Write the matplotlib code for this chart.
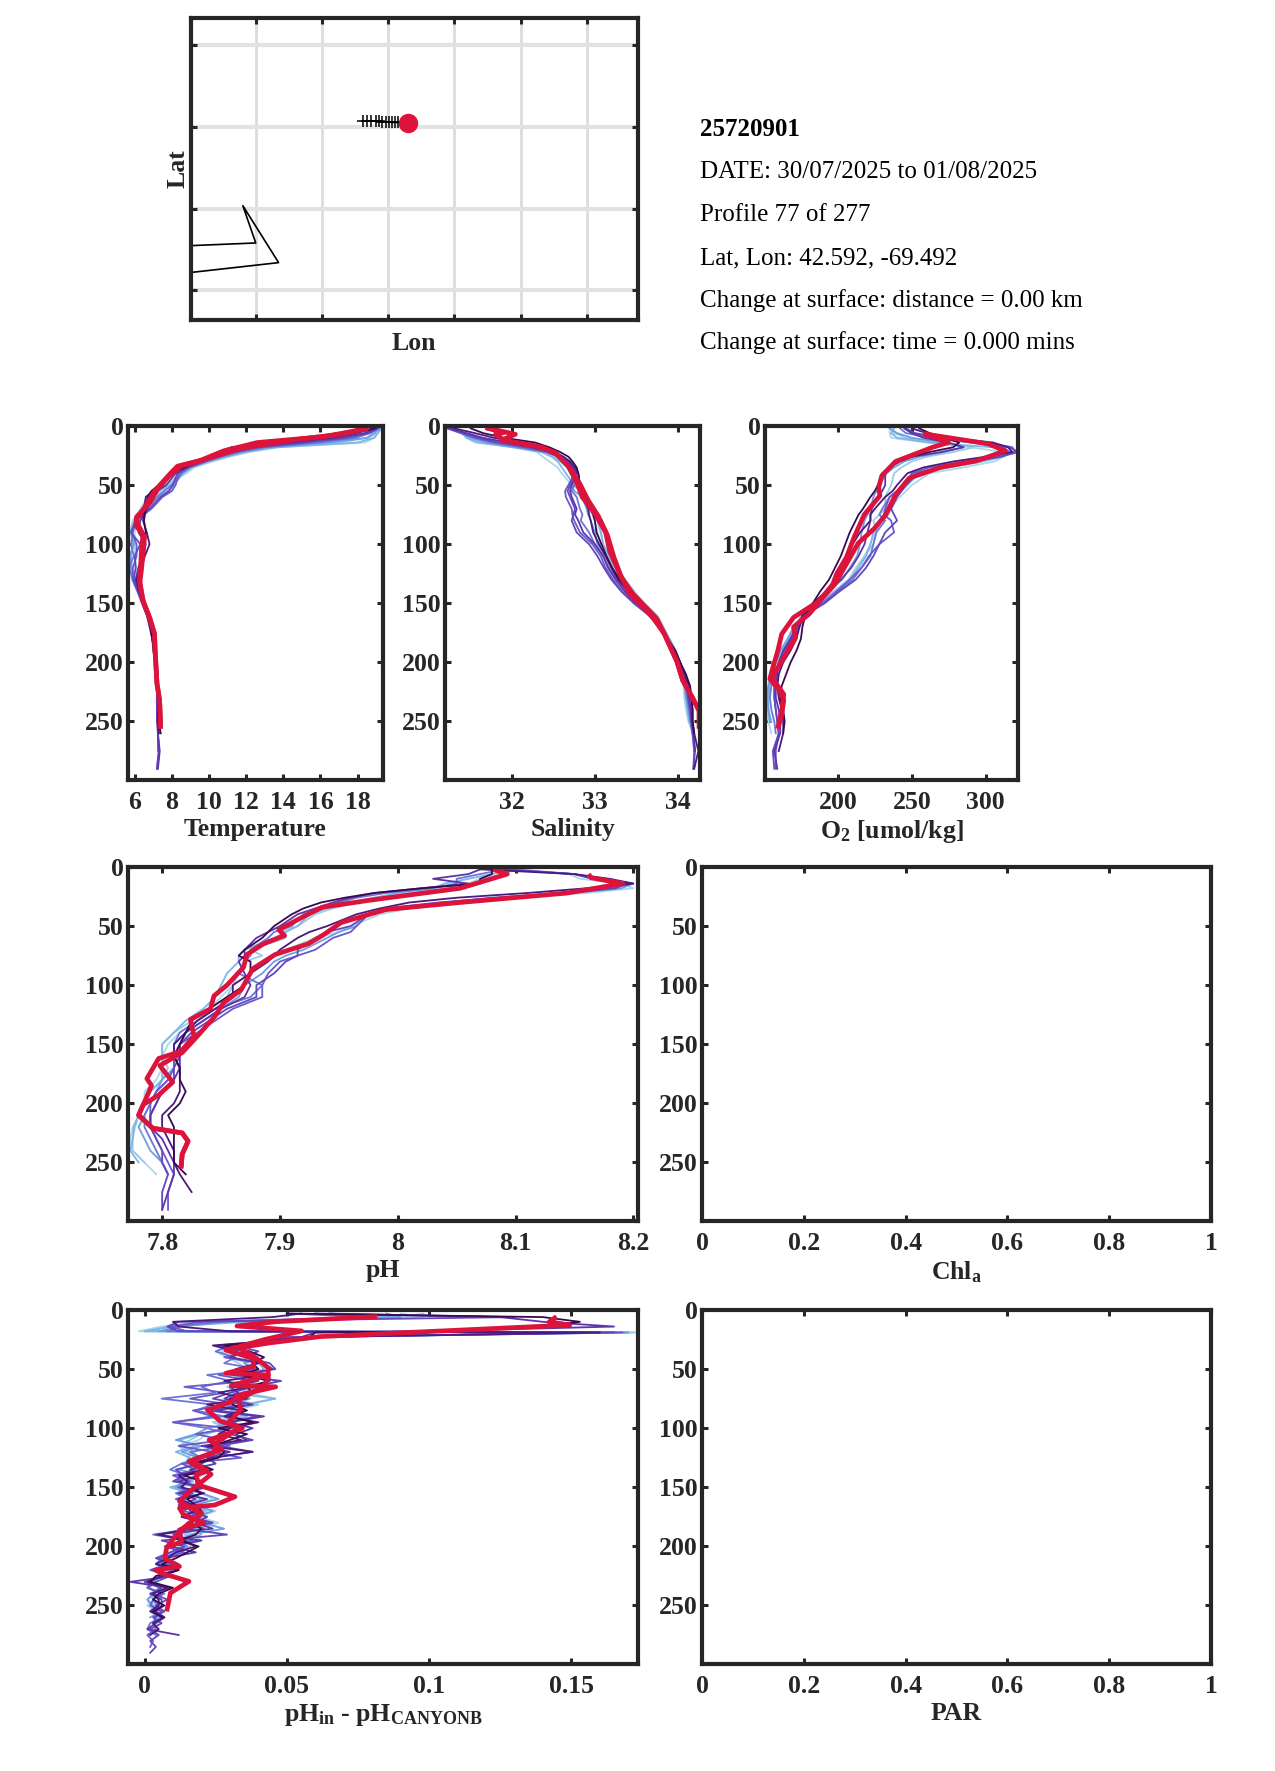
import matplotlib
matplotlib.use("Agg")
import matplotlib.pyplot as plt
from matplotlib.ticker import FormatStrFormatter

plt.rcParams['font.family'] = ['Liberation Serif', 'DejaVu Serif']
plt.rcParams['mathtext.fontset'] = 'custom'
plt.rcParams['mathtext.rm'] = 'Liberation Serif:bold'
plt.rcParams['mathtext.it'] = 'Liberation Serif:bold'
plt.rcParams['mathtext.bf'] = 'Liberation Serif:bold'
plt.rcParams['mathtext.default'] = 'rm'

W, H = 1275, 1771
DARK = '#262626'
RED = '#DC143C'
FS = 18.5

# colours of the older profiles, oldest first
prof_colors = ['#ADD8E6', '#9CCDE8', '#7FB6E6', '#6E9FE0', '#6C77D6', '#6A5ACD', '#6247BE', '#5E35A8', '#4B1A7E', '#3A0A50']

# depth levels shared by the older profiles, each stops at its own length
depth = [2,6,10,14,18,22,26,30,35,40,50,55,60,70,75,80,90,100,110,120,130,140,150,160,170,180,190,200,210,220,230,240,250,260,275,290]

temp_1 = [19.2,19.0,18.9,18.4,13.8,12.2,11.1,10.2,9.2,8.8,7.6,7.1,6.7,6.3,6.2,6.1,6.0,6.0,6.0,6.1,6.2,6.4,6.6,6.8,6.95,7.05,7.1,7.2,7.2,7.25,7.3,7.3,7.3]
temp_2 = [19.3,19.1,18.9,18.0,13.6,11.9,10.9,10.0,9.1,8.6,7.9,7.3,6.9,6.5,6.2,6.0,5.85,5.9,5.8,5.85,6.0,6.2,6.45,6.7,6.9,7.0,7.1,7.2,7.2,7.25,7.3,7.3,7.3,7.3]
temp_3 = [19.2,18.9,18.5,16.5,13.2,11.8,10.8,9.9,9.0,8.6,8.1,7.8,7.3,6.6,6.3,6.0,5.8,5.95,5.75,5.8,5.95,6.2,6.45,6.7,6.9,7.0,7.1,7.15,7.2,7.2,7.25,7.25,7.25,7.25]
temp_4 = [19.1,18.6,17.6,15.4,12.8,11.4,10.5,9.8,8.9,8.4,8.2,8.0,7.5,6.9,6.5,6.1,5.85,6.1,6.1,5.9,5.9,6.15,6.4,6.65,6.85,6.95,7.1,7.15,7.2,7.2,7.2,7.2,7.25,7.25,7.3,7.2]
temp_5 = [19.0,18.4,16.9,14.6,12.4,11.2,10.3,9.6,8.8,8.2,7.7,7.2,6.9,6.7,6.5,6.3,6.2,6.6,6.4,6.2,6.05,6.2,6.4,6.65,6.8,6.95,7.05,7.1,7.2,7.2,7.2,7.2,7.2,7.25,7.35,7.25]
temp_6 = [19.0,17.9,16.4,14.0,11.8,10.8,10.0,9.5,8.7,8.0,7.5,7.0,6.6,6.5,6.5,6.45,6.65,6.8,6.55,6.35,6.1,6.25,6.45,6.7,6.85,6.95,7.0,7.1,7.2,7.25,7.25,7.25,7.25,7.3]
temp_7 = [18.9,17.5,15.9,13.5,11.2,10.5,9.9,9.4,8.7,7.9,7.3,6.9,6.7,6.6,6.55,6.5,6.6,6.55,6.5,6.4,6.2,6.3,6.5,6.7,6.85,6.95,7.05,7.1,7.2,7.2,7.25,7.25,7.3,7.4]
temp_8 = [19.25,19.0,18.6,17.0,13.5,12.0,10.9,10.0,9.0,8.4,7.8,7.5,7.0,6.4,6.1,5.9,5.75,6.0,5.7,5.75,5.85,6.15,6.4,6.65,6.9,7.0,7.1,7.2,7.2,7.25,7.3,7.3,7.3]
temp_9 = [19.1,18.5,17.2,15.0,12.5,11.3,10.4,9.7,8.8,8.3,8.05,7.85,7.4,6.8,6.4,6.05,5.8,6.3,6.0,6.05,5.95,6.2,6.45,6.7,6.85,6.95,7.05,7.15,7.2,7.2,7.2,7.25,7.25,7.25,7.3,7.2]
temp_10 = [19.15,18.7,17.9,15.9,13.0,11.6,10.6,9.85,8.95,8.5,8.0,7.6,7.2,6.7,6.35,6.05,5.9,5.8,5.95,5.7,5.9,6.2,6.45,6.7,6.85,7.0,7.1,7.15,7.2,7.2,7.25,7.25,7.25,7.25,7.25]

sal_1 = [31.3,31.4,31.45,31.55,32.05,32.3,32.37,32.45,32.55,32.6,32.72,32.85,32.9,33.0,33.02,33.05,33.08,33.1,33.2,33.27,33.37,33.48,33.6,33.75,33.83,33.9,33.98,34.03,34.05,34.07,34.08,34.1,34.13,34.18]
sal_2 = [31.25,31.4,31.45,31.6,32.0,32.35,32.48,32.55,32.6,32.65,32.75,32.82,32.9,32.97,33.0,33.03,33.07,33.1,33.17,33.25,33.33,33.45,33.57,33.72,33.82,33.9,33.97,34.02,34.06,34.08,34.1,34.12,34.14]
sal_3 = [31.22,31.38,31.5,31.7,32.05,32.4,32.55,32.62,32.7,32.75,32.72,32.75,32.85,32.9,32.92,32.95,33.0,33.03,33.13,33.2,33.3,33.42,33.55,33.7,33.8,33.88,33.96,34.02,34.06,34.09,34.1,34.13,34.15,34.18]
sal_4 = [31.22,31.38,31.55,31.8,32.15,32.42,32.58,32.66,32.72,32.76,32.68,32.64,32.65,32.72,32.73,32.75,32.82,32.97,33.07,33.13,33.22,33.33,33.48,33.66,33.78,33.87,33.96,34.02,34.07,34.1,34.12,34.15,34.16,34.18,34.2,34.19]
sal_5 = [31.23,31.45,31.65,31.95,32.25,32.48,32.6,32.68,32.74,32.78,32.72,32.7,32.72,32.78,32.76,32.8,32.86,33.0,33.1,33.16,33.25,33.36,33.5,33.68,33.79,33.88,33.97,34.03,34.08,34.12,34.14,34.16,34.17,34.19,34.21]
sal_6 = [31.3,31.55,31.78,32.1,32.35,32.52,32.62,32.7,32.76,32.8,32.82,32.82,32.85,32.92,32.93,32.95,32.98,33.05,33.13,33.2,33.28,33.4,33.52,33.66,33.78,33.87,33.96,34.03,34.09,34.14,34.16,34.18,34.18,34.2,34.25,34.2]
sal_7 = [31.5,31.65,31.9,32.28,32.45,32.58,32.68,32.73,32.78,32.8,32.82,32.84,32.9,32.95,32.98,33.0,33.02,33.08,33.14,33.21,33.3,33.42,33.55,33.68,33.8,33.88,33.97,34.03,34.1,34.15,34.17,34.18,34.18,34.2]
sal_8 = [31.28,31.42,31.5,31.65,32.1,32.38,32.5,32.58,32.66,32.7,32.78,32.8,32.82,32.92,32.97,33.0,33.03,33.07,33.15,33.23,33.33,33.45,33.58,33.73,33.82,33.9,33.98,34.03,34.06,34.08,34.1,34.12,34.15]
sal_9 = [31.25,31.42,31.6,31.85,32.2,32.45,32.6,32.66,32.72,32.75,32.7,32.67,32.7,32.76,32.74,32.72,32.78,32.93,33.03,33.11,33.2,33.32,33.47,33.65,33.77,33.87,33.96,34.02,34.07,34.11,34.13,34.15,34.17,34.19,34.21,34.19]
sal_10 = [31.24,31.4,31.55,31.75,32.12,32.42,32.56,32.64,32.72,32.78,32.75,32.72,32.78,32.82,32.85,32.83,32.93,33.0,33.1,33.17,33.27,33.38,33.52,33.68,33.79,33.88,33.97,34.03,34.07,34.1,34.12,34.14,34.16,34.18,34.2]

oxy_1 = [235,235,236,260,290,312,312,306,285,262,250,246,242,235,232,230,225,222,218,212,207,197,187,177,171,167,162,157,155,153,152,152,153,155]
oxy_2 = [238,236,240,262,305,318,312,298,275,255,247,243,240,236,234,230,224,222,219,214,208,198,188,177,171,167,163,158,156,154,153,153,155]
oxy_3 = [235,240,250,272,285,272,255,245,238,233,228,226,224,222,220,218,216,215,213,208,203,193,184,176,170,166,161,157,155,153,152,153,154]
oxy_4 = [245,250,268,300,318,320,305,285,262,250,245,240,235,232,231,236,238,228,221,216,208,199,190,178,174,170,164,160,158,157,157,158,159,160,158,158]
oxy_5 = [245,250,258,275,285,270,250,240,235,232,232,230,227,223,222,222,220,218,214,209,202,194,184,177,172,168,163,160,159,158,158,160,161,161,157,159]
oxy_6 = [250,260,275,305,315,318,300,278,258,247,240,237,232,225,222,222,215,210,207,203,198,192,183,176,174,172,168,163,160,159,160,162,163,163,160]
oxy_7 = [255,262,272,282,278,262,250,242,235,230,227,225,222,217,214,212,208,205,202,198,194,188,183,178,176,175,172,168,165,162,161,163,164,163]
oxy_8 = [236,238,246,268,292,278,260,250,243,238,236,234,232,232,228,224,226,224,218,213,208,198,187,177,171,167,162,158,155,153,152,153,155]
oxy_9 = [246,252,270,298,316,322,310,292,268,254,246,243,240,236,238,240,232,228,224,219,212,201,191,178,173,169,165,161,158,157,157,158,159,160,156,157]
oxy_10 = [242,246,262,290,312,316,306,290,270,252,244,240,235,230,228,232,226,224,222,216,210,200,189,178,172,168,164,160,157,155,154,155,157,158]

ph_1 = [8.10,8.145,8.155,8.19,8.2,8.16,8.10,8.06,8.01,7.985,7.96,7.95,7.93,7.905,7.895,7.885,7.875,7.86,7.85,7.84,7.83,7.815,7.805,7.80,7.80,7.795,7.785,7.785,7.78,7.775,7.773,7.775,7.785,7.795]
ph_2 = [8.10,8.08,8.06,8.04,8.03,8.0,7.98,7.96,7.94,7.925,7.915,7.905,7.895,7.87,7.865,7.865,7.855,7.85,7.845,7.835,7.82,7.81,7.80,7.80,7.80,7.80,7.79,7.785,7.78,7.776,7.775,7.773,7.78]
ph_3 = [8.10,8.15,8.17,8.2,8.19,8.15,8.09,8.05,8.0,7.975,7.965,7.95,7.94,7.92,7.905,7.895,7.885,7.87,7.865,7.85,7.835,7.82,7.81,7.81,7.81,7.80,7.795,7.79,7.785,7.78,7.785,7.79,7.80,7.805]
ph_4 = [8.09,8.15,8.17,8.2,8.18,8.14,8.08,8.04,7.995,7.975,7.965,7.96,7.945,7.93,7.915,7.90,7.89,7.885,7.885,7.86,7.845,7.83,7.815,7.81,7.81,7.805,7.795,7.79,7.79,7.79,7.795,7.80,7.805,7.81,7.805,7.805]
ph_5 = [8.07,8.06,8.03,8.06,8.02,7.98,7.96,7.945,7.93,7.915,7.90,7.89,7.88,7.87,7.87,7.865,7.87,7.875,7.87,7.85,7.835,7.82,7.815,7.815,7.815,7.81,7.80,7.795,7.79,7.79,7.80,7.805,7.81,7.81,7.805,7.80]
ph_6 = [8.07,8.15,8.18,8.20,8.16,8.11,8.05,8.01,7.985,7.965,7.94,7.925,7.915,7.90,7.895,7.89,7.875,7.86,7.86,7.845,7.83,7.82,7.81,7.81,7.815,7.815,7.815,7.81,7.80,7.80,7.805,7.81,7.81,7.815,7.825]
ph_7 = [8.08,8.08,8.07,8.07,8.02,7.98,7.955,7.935,7.92,7.91,7.895,7.89,7.885,7.87,7.865,7.875,7.875,7.87,7.855,7.84,7.825,7.82,7.815,7.81,7.815,7.815,7.82,7.815,7.805,7.81,7.81,7.81,7.81,7.82]
ph_8 = [8.10,8.09,8.07,8.06,8.04,8.01,7.98,7.965,7.945,7.93,7.915,7.90,7.905,7.875,7.885,7.87,7.865,7.86,7.855,7.84,7.825,7.81,7.80,7.80,7.805,7.80,7.79,7.785,7.78,7.777,7.775,7.775,7.785]
ph_9 = [8.09,8.15,8.165,8.195,8.185,8.145,8.085,8.035,7.99,7.975,7.96,7.94,7.93,7.915,7.915,7.905,7.895,7.88,7.88,7.855,7.84,7.825,7.815,7.815,7.81,7.81,7.80,7.795,7.79,7.79,7.795,7.80,7.80,7.805,7.80,7.80]
ph_10 = [8.09,8.07,8.05,8.05,8.03,7.99,7.965,7.95,7.935,7.92,7.91,7.895,7.89,7.875,7.875,7.87,7.865,7.885,7.875,7.845,7.83,7.815,7.81,7.81,7.81,7.805,7.795,7.79,7.785,7.785,7.79,7.795,7.80,7.805]

# pH difference is noisy so it has its own finer levels
diff_depth = [3,6,10,14,18,19,23,27] + list(range(30, 295, 5))
diff_1 = [.09,.098,.02,.006,-.002,.173,.05,.043,
          .035,.027,.03,.036,.038,.035,.04,.033,.036,.046,.034,.028,.03,.025,.028,.022,
          .019,.013,.018,.015,.02,.024,.017,.021,.012,.02,.024,.018,.025,.019,.026,.02,
          .017,.02,.014,.01,.007,.01,.006,.009,.004,.007,.002,.005,.001,.004]
diff_2 = [.065,.09,.035,.01,.0,.17,.055,.045,
          .04,.03,.036,.04,.042,.036,.047,.04,.03,.046,.036,.03,.036,.026,.03,.02,
          .012,.018,.011,.016,.014,.02,.012,.017,.009,.016,.02,.014,.021,.016,.024,.018,
          .02,.013,.012,.011,.008,.005,.009,.005,.003,.006,.002,.003,.004,.002,.005]
diff_3 = [.06,.08,.025,.012,.008,.162,.05,.04,
          .03,.025,.032,.028,.04,.022,.03,.02,.025,.006,.024,.018,.028,.01,.022,.03,
          .024,.03,.016,.02,.013,.009,.015,.011,.018,.011,.015,.012,.019,.013,.022,.017,
          .003,.015,.009,.012,.006,.004,.01,.006,.002,.001,.007,.003,.005,.003,.006,.002,.001,.004]
diff_4 = [.06,.13,.012,.008,.012,.165,.05,.042,
          .032,.04,.035,.044,.046,.031,.048,.038,.03,.024,.035,.022,.04,.028,.034,.03,
          .038,.026,.038,.024,.02,.011,.014,.01,.022,.013,.018,.012,.02,.016,.024,.014,
          .029,.006,.014,.009,.004,.01,.003,.008,.0,.006,.003,.008,.004,.007,.003,.006,.002,.005,.002,.004,.002]
diff_5 = [.065,.125,.14,.165,.1,.06,.055,.04,
          .026,.035,.03,.042,.045,.036,.04,.03,.033,.028,.038,.025,.042,.03,.038,.032,
          .036,.02,.03,.022,.025,.016,.019,.012,.02,.012,.022,.015,.016,.022,.018,.024,
          .004,.02,.009,.018,.007,.012,.003,.01,-.005,.009,.002,.006,.006,.004,.007,.004,.001,.012]
diff_6 = [.05,.14,.153,.14,.1,.06,.058,.042,
          .028,.037,.042,.038,.04,.034,.044,.036,.038,.03,.031,.036,.03,.038,.026,.036,
          .03,.024,.028,.026,.018,.024,.014,.02,.017,.02,.015,.018,.02,.018,.016,.02,
          .018,.012,.019,.015,.011,.006,.012,.004,.002,.01,.005,.003,.007,.003,.006]
diff_7 = [.098,.09,.03,.008,.0,.172,.052,.044,
          .031,.025,.029,.033,.036,.031,.037,.029,.033,.03,.04,.031,.034,.024,.03,.02,
          .016,.012,.015,.02,.016,.018,.011,.017,.01,.016,.021,.016,.022,.017,.022,.019,
          .014,.018,.016,.012,.009,.007,.008,.005,.003,.002,.004,.001,.002,.005]
diff_8 = [.085,.09,.03,.012,.005,.17,.054,.046,
          .036,.03,.04,.035,.038,.042,.034,.043,.034,.037,.03,.035,.028,.032,.022,.018,
          .011,.02,.013,.019,.018,.012,.02,.014,.011,.02,.026,.017,.024,.018,.02,.028,
          .016,.012,.015,.01,.006,.009,.004,.007,.002,.005,.003,.001,.003,.006,.002]
diff_9 = [.05,.08,.02,.009,.015,.168,.055,.044,
          .03,.036,.028,.04,.034,.026,.038,.014,.028,.016,.03,.017,.024,.01,.03,.018,
          .028,.012,.024,.034,.013,.018,.01,.016,.012,.017,.011,.016,.014,.02,.015,.021,
          .01,.017,.007,.014,.005,.008,.002,.009,.004,.001,.006,.003,.002,.006,.004,.003,.004,.001,.003,.002]
diff_10 = [.055,.045,.01,.012,.03,.16,.058,.04,
           .024,.032,.038,.04,.032,.042,.028,.037,.026,.036,.022,.034,.028,.04,.03,.026,
           .034,.022,.038,.024,.016,.021,.012,.015,.013,.021,.012,.017,.018,.013,.021,.016,
           .005,.014,.018,.011,.008,.004,.012,.006,.001,.008,.003,.005,.005,.002,.007,.003,.005,.002]

# the two highlighted profiles in red, each panel with its own depths
temp_red_a = [18.57,17.05,14.4,11.7,10.46,9.4,8.5,7.87,7.25,6.8,6.1,6.1,6.45,6.36,6.32,6.27,6.45,6.8,7.07,7.1,7.2,7.34,7.4]
temp_red_a_z = [2,7,12,19,25,30,34,42,53,65,77,85,92,106,120,131,148,162,176,190,218,232,256]
temp_red_b = [18.57,16.2,12.6,10.8,9.56,8.3,7.87,7.07,6.53,6.1,6.2,6.53,6.45,6.36,6.27,6.45,6.8,7.07,7.1,7.2,7.34,7.4]
temp_red_b_z = [2,9,14,21,29,34,41,55,69,79,84,94,108,122,133,148,162,176,190,218,232,256]

sal_red_a = [31.68,31.9,31.8,31.9,32.37,32.54,32.68,32.77,32.85,33.01,33.13,33.18,33.3,33.42,33.7,33.84,33.99,34.06,34.18,34.26,34.26]
sal_red_a_z = [1.4,5.6,7,12,18,24,34,46,60,75,90,106,125,142,162,176,199,215,230,241,256]
sal_red_b = [31.68,32.04,31.87,32.28,32.51,32.68,32.82,32.92,33.04,33.15,33.23,33.32,33.46,33.75,33.84,33.99,34.06,34.18,34.26,34.26]
sal_red_b_z = [1.4,7,12,17,22,34,49,63,76,92,111,128,142,163,176,199,215,230,241,256]

oxy_red_a = [257.6,301.3,313.3,293.4,269.5,248.3,239,232.4,224.4,213.8,207,197.9,189.9,180.6,170,171.4,163.4,155.4,163.4,162,159.4]
oxy_red_a_z = [6.5,15,21,29.6,35,44,58,75,87,99,114,134,145,159,170,179,196,213,227,241,256]
oxy_red_b = [258.9,274.8,264,239,229.7,227.6,228.4,217.8,211,205.8,199.2,196.5,187.3,170,162,159.4,155.4,154,160.7,163.4,162,159.4]
oxy_red_b_z = [7,14,18,30,42,52,59,75,94,111,125,134,148,162,176,190,207,214,224,232,244,256]

ph_red_a = [8.081,8.093,8.053,8.015,7.977,7.936,7.918,7.899,7.904,7.886,7.872,7.869,7.855,7.844,7.841,7.824,7.827,7.816,7.797,7.787,7.791,7.784,7.78,7.792,7.817,7.822,7.817,7.816]
ph_red_a_z = [2,6,18,23,28,34,43,53,58,65,74,85,100,109,120,129,143,156,162,179,185,201,210,221,225,232,243,255]
ph_red_b = [8.162,8.164,8.191,8.144,8.053,7.99,7.952,7.936,7.924,7.896,7.877,7.867,7.852,7.845,7.83,7.817,7.798,7.809,7.797,7.784,7.78,7.792,7.817,7.822,7.817,7.816]
ph_red_b_z = [6,9,14,22,30,36,47,58,65,74,86,104,115,126,143,157,168,182,193,201,210,221,225,232,243,255]

diff_red_a = [.0818,.0461,.0325,.0552,.0422,.0286,.0383,.0383,.0286,.0435,.0305,.0461,.0331,.0305,.0221,.0266,.0344,.0227,.0273,.0156,.0214,.0182,.0188,.0318,.0247,.0123,.0136,.0208,.0123,.013,.0078,.0071,.0123,.0039,.0058,.0156,.0091,.0078]
diff_red_a_z = [5.6,9.9,13.5,17.7,25,34,41,48,53.5,55,64,65,72,77.5,84.5,94,100,110,118,128,137,139,148,158,165,167.6,173,180,186,196,201,210,217,220,222.5,229.6,239.4,255]
diff_red_b = [.1448,.1422,.1494,.0617,.0435,.0331,.0383,.0435,.0435,.0416,.0331,.0338,.0299,.0325,.026,.024,.0169,.0234,.0162,.0123,.0201,.0149,.0123,.0078]
diff_red_b_z = [5.6,10,12.7,22.5,28,32,39,49,58,65,76,84.5,94,101,111,121,127,139,153,162,172,182,187,201]

# map panel
float_lon = -69.492
float_lat = 42.592
track_lon = [-70.86,-70.74,-70.61,-70.47,-70.38,-70.28,-70.18,-70.09,-69.99,-69.89,-69.80]
track_lat = [42.64,42.64,42.635,42.63,42.625,42.62,42.61,42.61,42.60,42.60,42.60]
coast_lon = [-76.5,-74.10,-74.49,-73.41,-76.5]
coast_lat = [39.58,39.66,40.57,39.18,38.90]
lon_ticks = [-74.1,-72.1,-70.1,-68.1,-66.1,-64.1]
lat_ticks = [38.5,40.5,42.5,44.5]

info_lines = ['25720901', 'DATE: 30/07/2025 to 01/08/2025', 'Profile 77 of 277',
              'Lat, Lon: 42.592, -69.492', 'Change at surface: distance = 0.00 km',
              'Change at surface: time = 0.000 mins']
info_y = [129, 172, 215, 258, 300.5, 343]
depth_ticks = [0, 50, 100, 150, 200, 250]


def make_axes(fig, x0, x1, y0, y1):
    ax = fig.add_axes([x0 / W, 1 - y1 / H, (x1 - x0) / W, (y1 - y0) / H])
    for s in ax.spines.values():
        s.set_linewidth(3.0)
        s.set_color(DARK)
    ax.tick_params(direction='in', top=True, right=True, length=4.5, width=2.2, color=DARK,
                   labelsize=FS, labelcolor=DARK)
    ax.tick_params(axis='x', pad=8)
    ax.tick_params(axis='y', pad=3)
    return ax


def depth_panel(fig, box, xlim, xticks, xlabel, profiles, colors, z, reds):
    ax = make_axes(fig, *box)
    for vals, c in zip(profiles, colors):
        ax.plot(vals, z[:len(vals)], color=c, lw=1.3, solid_joinstyle='round')
    for vals, vz in reds:
        ax.plot(vals, vz, color=RED, lw=3.4, solid_joinstyle='round', solid_capstyle='butt')
    ax.set_xlim(*xlim)
    ax.set_ylim(299.5, 0)
    ax.set_yticks(depth_ticks)
    ax.set_xticks(xticks)
    ax.xaxis.set_major_formatter(FormatStrFormatter('%g'))
    for lab in ax.get_xticklabels() + ax.get_yticklabels():
        lab.set_fontweight('bold')
    ax.set_xlabel(xlabel, fontsize=FS, fontweight='bold', color=DARK, labelpad=3)
    return ax


fig = plt.figure(figsize=(W / 100, H / 100), dpi=100)

# map
ax = make_axes(fig, 190.5, 638, 18, 320)
ax.set_xlim(-76.07, -62.56)
ax.set_ylim(37.78, 45.15)
ax.set_xticks(lon_ticks)
ax.set_yticks(lat_ticks)
ax.set_xticklabels([])
ax.set_yticklabels([])
ax.grid(True, axis='x', color='#dcdcdc', lw=2.0)
ax.grid(True, axis='y', color='#e2e2e2', lw=3.0)
ax.set_axisbelow(True)
ax.plot(coast_lon, coast_lat, color='black', lw=1.2)
ax.plot(track_lon, track_lat, color='black', lw=1.2, marker='+', ms=9, mew=1.1)
ax.plot([float_lon], [float_lat], 'o', color=RED, ms=13, mec=RED)
ax.set_xlabel('Lon', fontsize=FS, fontweight='bold', color=DARK, labelpad=1)
ax.set_ylabel('Lat', fontsize=FS, fontweight='bold', color=DARK, labelpad=-2)

for i in range(len(info_lines)):
    fig.text(700 / W, 1 - info_y[i] / H, info_lines[i], fontsize=18, va='center', ha='left',
             color='black', fontweight='bold' if i == 0 else 'normal')

depth_panel(fig, (128, 383, 426, 780), (5.64, 19.37), [6, 8, 10, 12, 14, 16, 18], 'Temperature',
            [temp_1, temp_8, temp_2, temp_3, temp_10, temp_4, temp_9, temp_5, temp_6, temp_7], prof_colors, depth,
            [(temp_red_a, temp_red_a_z), (temp_red_b, temp_red_b_z)])
depth_panel(fig, (445, 700, 426, 780), (31.19, 34.27), [32, 33, 34], 'Salinity',
            [sal_1, sal_8, sal_2, sal_3, sal_10, sal_4, sal_9, sal_5, sal_6, sal_7], prof_colors, depth,
            [(sal_red_a, sal_red_a_z), (sal_red_b, sal_red_b_z)])
depth_panel(fig, (765, 1018, 426, 780), (150.7, 321.8), [200, 250, 300], r'O$_{2}$ [umol/kg]',
            [oxy_1, oxy_8, oxy_2, oxy_3, oxy_10, oxy_4, oxy_9, oxy_5, oxy_6, oxy_7], prof_colors, depth,
            [(oxy_red_a, oxy_red_a_z), (oxy_red_b, oxy_red_b_z)])
depth_panel(fig, (128, 638, 867, 1221), (7.771, 8.204), [7.8, 7.9, 8, 8.1, 8.2], 'pH',
            [ph_1, ph_8, ph_2, ph_3, ph_10, ph_4, ph_9, ph_5, ph_6, ph_7], prof_colors, depth,
            [(ph_red_a, ph_red_a_z), (ph_red_b, ph_red_b_z)])
depth_panel(fig, (702, 1211, 867, 1221), (0, 1), [0, 0.2, 0.4, 0.6, 0.8, 1], r'Chl$_{a}$', [], [], depth, [])
depth_panel(fig, (128, 638, 1310, 1664), (-0.0058, 0.1734), [0, 0.05, 0.1, 0.15],
            r'pH$_{in}$ - pH$_{CANYONB}$',
            [diff_1, diff_7, diff_2, diff_8, diff_3, diff_9, diff_4, diff_5, diff_10, diff_6], prof_colors, diff_depth,
            [(diff_red_a, diff_red_a_z), (diff_red_b, diff_red_b_z)])
depth_panel(fig, (702, 1211, 1310, 1664), (0, 1), [0, 0.2, 0.4, 0.6, 0.8, 1], 'PAR', [], [], depth, [])

fig.savefig('out.png', dpi=100)
